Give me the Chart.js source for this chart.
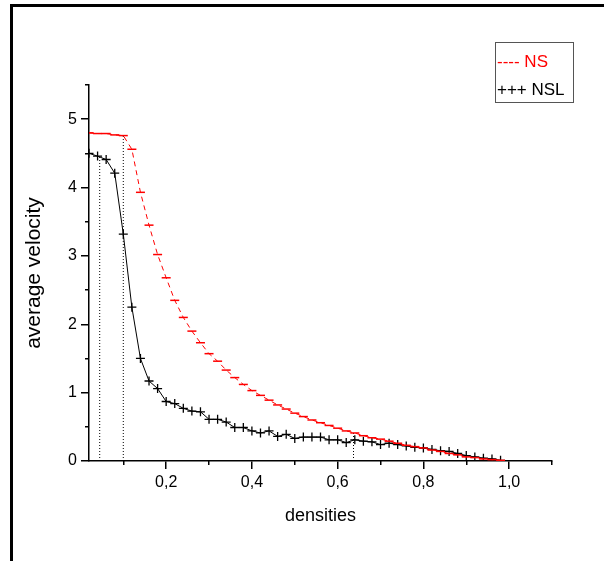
<!DOCTYPE html>
<html>
<head>
<meta charset="utf-8">
<script src="https://cdn.jsdelivr.net/npm/chart.js@4"></script>
<style>
  html, body { margin: 0; padding: 0; background: #fff; }
  #wrap { position: relative; width: 604px; height: 561px; overflow: hidden; }
  #frame { position: absolute; left: 10px; top: 4px; width: 700px; height: 700px;
           border-left: 3px solid #000; border-top: 3px solid #000; }
  #chart { position: absolute; left: 0; top: 0; }
</style>
</head>
<body>
<div id="wrap">
  <div id="frame"></div>
  <canvas id="chart" width="604" height="561"></canvas>
</div>
<script>
// densities (x) shared by both series
const densities = [
  0.02, 0.04, 0.06, 0.08, 0.10, 0.12, 0.14, 0.16, 0.18, 0.20,
  0.22, 0.24, 0.26, 0.28, 0.30, 0.32, 0.34, 0.36, 0.38, 0.40,
  0.42, 0.44, 0.46, 0.48, 0.50, 0.52, 0.54, 0.56, 0.58, 0.60,
  0.62, 0.64, 0.66, 0.68, 0.70, 0.72, 0.74, 0.76, 0.78, 0.80,
  0.82, 0.84, 0.86, 0.88, 0.90, 0.92, 0.94, 0.96, 0.98
];

const nsVelocity = [
  4.80, 4.79, 4.79, 4.77, 4.76, 4.56, 3.93, 3.45, 3.02, 2.68,
  2.35, 2.10, 1.90, 1.73, 1.57, 1.46, 1.33, 1.22, 1.12, 1.03,
  0.96, 0.89, 0.82, 0.76, 0.70, 0.65, 0.60, 0.56, 0.52, 0.48,
  0.44, 0.41, 0.37, 0.34, 0.32, 0.29, 0.26, 0.23, 0.21, 0.19,
  0.16, 0.14, 0.11, 0.09, 0.06, 0.05, 0.03, 0.02, 0.01
];

const nslVelocity = [
  4.50, 4.46, 4.41, 4.21, 3.32, 2.25, 1.50, 1.17, 1.06, 0.87,
  0.84, 0.77, 0.73, 0.72, 0.61, 0.61, 0.57, 0.49, 0.49, 0.44,
  0.41, 0.44, 0.36, 0.39, 0.33, 0.35, 0.35, 0.35, 0.31, 0.31,
  0.27, 0.31, 0.29, 0.28, 0.24, 0.26, 0.24, 0.22, 0.20, 0.19,
  0.17, 0.15, 0.14, 0.11, 0.08, 0.06, 0.04, 0.03, 0.01
];

// dotted drop lines
const guideX = [0.045, 0.10, 0.637];
const guideTop = [4.45, 4.76, 0.41];

// axis ticks
const xMajorTicks = [0.2, 0.4, 0.6, 0.8, 1.0];
const xMajorLabels = ['0,2', '0,4', '0,6', '0,8', '1,0'];
const xMinorTicks = [0.1, 0.3, 0.5, 0.7, 0.9, 1.1];
const yMajorTicks = [0, 1, 2, 3, 4, 5];
const yMajorLabels = ['0', '1', '2', '3', '4', '5'];
const yMinorTicks = [0.5, 1.5, 2.5, 3.5, 4.5, 5.5];

const FONT = "'Liberation Sans', Arial, sans-serif";

const guidePoints = guideX.flatMap((x, i) => [
  { x, y: 0 }, { x, y: guideTop[i] }, { x, y: null }
]);

const boxLegend = {
  id: 'boxLegend',
  afterDraw(chart) {
    const ctx = chart.ctx;
    const [ns, nsl] = chart.data.datasets;
    ctx.save();
    ctx.strokeStyle = '#555';
    ctx.lineWidth = 1;
    ctx.strokeRect(495.5, 42.5, 78, 60);
    ctx.font = `17px ${FONT}`;
    ctx.textBaseline = 'alphabetic';
    ctx.textAlign = 'left';
    ctx.fillStyle = ns.borderColor;
    ctx.fillText('---- ' + ns.label, 497, 67);
    ctx.fillStyle = nsl.borderColor;
    ctx.fillText('+++ ' + nsl.label, 497, 95);
    ctx.restore();
  }
};

const tickAxis = (values) => (scale) => {
  scale.ticks = values.map((value) => ({ value }));
};

new Chart(document.getElementById('chart'), {
  type: 'line',
  data: {
    datasets: [
      {
        label: 'NS',
        data: densities.map((x, i) => ({ x, y: nsVelocity[i] })),
        borderColor: '#ff0000',
        backgroundColor: '#ff0000',
        borderWidth: 1,
        borderDash: [5, 4],
        pointStyle: 'line',
        pointRadius: 4.5,
        pointBorderWidth: 1.5,
        pointBorderColor: '#ff0000',
        tension: 0,
        fill: false
      },
      {
        label: 'NSL',
        data: densities.map((x, i) => ({ x, y: nslVelocity[i] })),
        borderColor: '#000000',
        backgroundColor: '#000000',
        borderWidth: 1,
        pointStyle: 'cross',
        pointRadius: 4.5,
        pointBorderWidth: 1.3,
        pointBorderColor: '#000000',
        tension: 0,
        fill: false
      },
      {
        label: 'guides',
        data: guidePoints,
        borderColor: '#000000',
        borderWidth: 1,
        borderDash: [1, 2],
        pointRadius: 0,
        spanGaps: false,
        fill: false
      }
    ]
  },
  options: {
    responsive: false,
    animation: false,
    devicePixelRatio: 1,
    layout: { padding: { left: 18, top: 85, right: 52, bottom: 30 } },
    plugins: {
      legend: { display: false },
      tooltip: { enabled: false }
    },
    scales: {
      x: {
        type: 'linear',
        min: 0.02,
        max: 1.1,
        afterBuildTicks: tickAxis(xMajorTicks),
        afterFit(scale) { scale.height = 70; },
        ticks: {
          autoSkip: false,
          maxRotation: 0,
          padding: 4,
          color: '#000',
          font: { family: FONT, size: 16 },
          callback: (v) => xMajorLabels[xMajorTicks.findIndex((t) => Math.abs(t - v) < 1e-6)] ?? ''
        },
        grid: { drawOnChartArea: false, drawTicks: true, tickLength: 8, color: '#000', lineWidth: 1.5 },
        border: { display: true, color: '#000', width: 1.5 },
        title: {
          display: true,
          text: 'densities',
          color: '#000',
          font: { family: FONT, size: 18 },
          padding: { top: 4, bottom: 4 }
        }
      },
      y: {
        type: 'linear',
        min: 0,
        max: 5.5,
        afterBuildTicks: tickAxis(yMajorTicks),
        afterFit(scale) { scale.width = 71; },
        ticks: {
          autoSkip: false,
          padding: 4,
          color: '#000',
          font: { family: FONT, size: 16 },
          callback: (v) => yMajorLabels[yMajorTicks.indexOf(v)] ?? ''
        },
        grid: { drawOnChartArea: false, drawTicks: true, tickLength: 8, color: '#000', lineWidth: 1.5 },
        border: { display: true, color: '#000', width: 1.5 },
        title: {
          display: true,
          text: 'average velocity',
          color: '#000',
          font: { family: FONT, size: 21 },
          padding: { top: 4, bottom: 4 }
        }
      },
      xMinor: {
        type: 'linear',
        axis: 'x',
        position: { y: 0 },
        min: 0.02,
        max: 1.1,
        afterBuildTicks: tickAxis(xMinorTicks),
        afterFit(scale) { scale.height = 0; },
        ticks: { display: false },
        grid: { drawOnChartArea: false, drawTicks: true, tickLength: 4, color: '#000', lineWidth: 1.5 },
        border: { display: false }
      },
      yMinor: {
        type: 'linear',
        axis: 'y',
        position: { x: 0.02 },
        min: 0,
        max: 5.5,
        afterBuildTicks: tickAxis(yMinorTicks),
        afterFit(scale) { scale.width = 0; },
        ticks: { display: false },
        grid: { drawOnChartArea: false, drawTicks: true, tickLength: 4, color: '#000', lineWidth: 1.5 },
        border: { display: false }
      }
    }
  },
  plugins: [boxLegend]
});
</script>
</body>
</html>
